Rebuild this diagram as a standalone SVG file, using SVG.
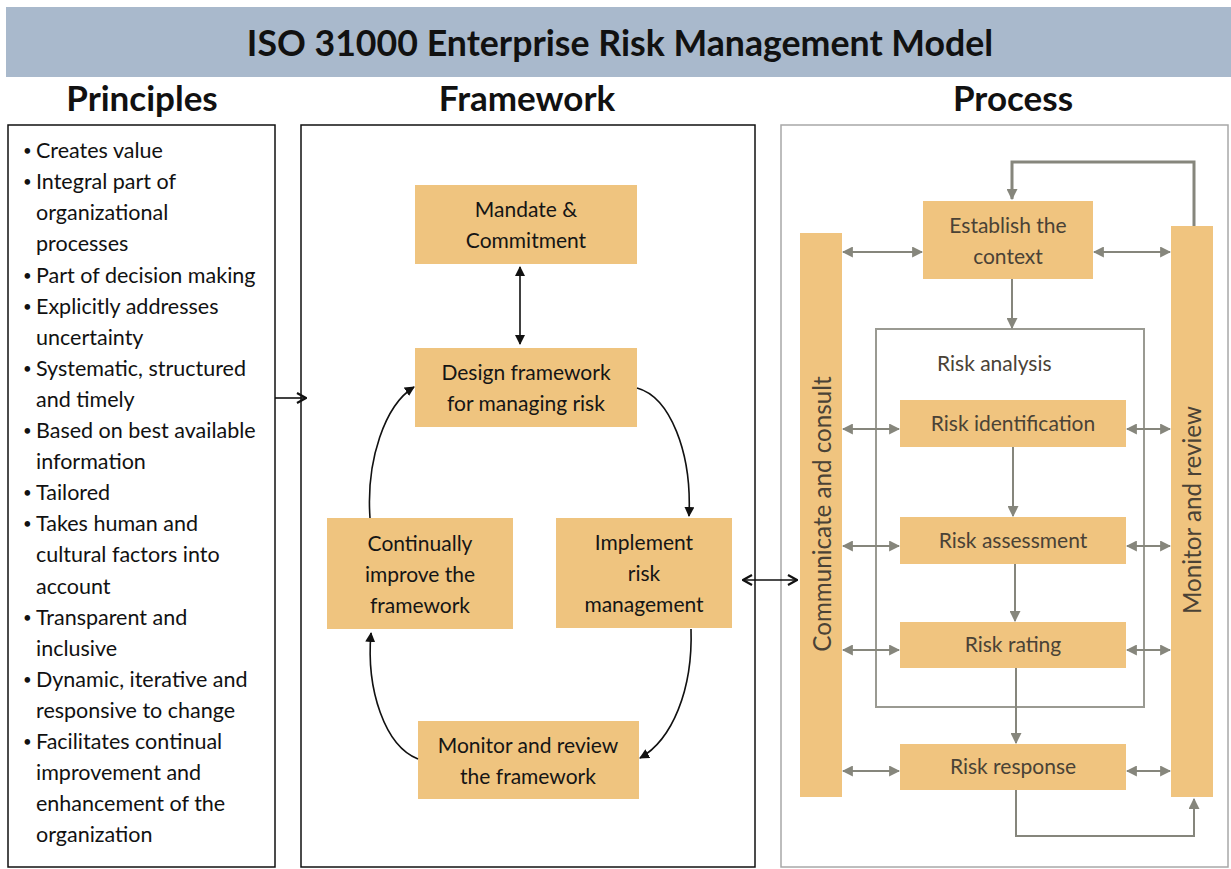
<svg xmlns="http://www.w3.org/2000/svg" width="1231" height="869" viewBox="0 0 1231 869">
<defs>
<style>
.t{font-family:Lato,"Open Sans","Liberation Sans",sans-serif;}
.hdr{font-size:35px;fill:#111;text-anchor:middle;font-weight:bold;}
.pr{font-size:21.5px;fill:#111;}
.bu{font-size:15px;fill:#111;}
.fn{fill:#efc47f;}
.ft{font-size:21px;fill:#151515;text-anchor:middle;}
.pn{fill:#f0c47f;}
.pt{font-size:21px;fill:#4a4236;text-anchor:middle;}
.vt{font-size:24.2px;fill:#4a4236;text-anchor:middle;}
.gl{stroke:#86867c;stroke-width:2;fill:none;}
.bl{stroke:#111;stroke-width:1.6;fill:none;}
</style>
<marker id="ga" viewBox="0 0 10 10" refX="9" refY="5" markerWidth="11" markerHeight="11" markerUnits="userSpaceOnUse" orient="auto-start-reverse"><path d="M0,0 L10,5 L0,10 z" fill="#86867c"/></marker>
<marker id="ba" viewBox="0 0 10 10" refX="9" refY="5" markerWidth="10" markerHeight="10" markerUnits="userSpaceOnUse" orient="auto-start-reverse"><path d="M0,0 L10,5 L0,10 z" fill="#111"/></marker>
<marker id="oa" viewBox="0 0 12 12" refX="11" refY="6" markerWidth="12" markerHeight="12" markerUnits="userSpaceOnUse" orient="auto-start-reverse"><path d="M2,1 L11,6 L2,11" fill="none" stroke="#111" stroke-width="2.2"/></marker>
</defs>
<rect width="1231" height="869" fill="#fff"/>

<g id="title">
<rect x="6" y="7" width="1225" height="70" fill="#a9b9cc"/>
<text class="t" x="620" y="56" font-size="35.7" font-weight="bold" fill="#111" text-anchor="middle">ISO 31000 Enterprise Risk Management Model</text>
</g>

<g id="headers">
<text class="t hdr" x="142" y="111">Principles</text>
<text class="t hdr" x="527" y="111">Framework</text>
<text class="t hdr" x="1013" y="111">Process</text>
</g>

<g id="principles">
<rect x="8" y="125" width="267" height="742" fill="none" stroke="#111" stroke-width="1.5"/>
<g class="t bu">
<text x="23" y="156">•</text>
<text x="23" y="187">•</text>
<text x="23" y="281">•</text>
<text x="23" y="312">•</text>
<text x="23" y="374">•</text>
<text x="23" y="436">•</text>
<text x="23" y="498">•</text>
<text x="23" y="529">•</text>
<text x="23" y="623">•</text>
<text x="23" y="685">•</text>
<text x="23" y="747">•</text>
</g>
<g class="t pr">
<text x="36" y="158">Creates value</text>
<text x="36" y="189">Integral part of</text>
<text x="36" y="220">organizational</text>
<text x="36" y="251">processes</text>
<text x="36" y="283">Part of decision making</text>
<text x="36" y="314">Explicitly addresses</text>
<text x="36" y="345">uncertainty</text>
<text x="36" y="376">Systematic, structured</text>
<text x="36" y="407">and timely</text>
<text x="36" y="438">Based on best available</text>
<text x="36" y="469">information</text>
<text x="36" y="500">Tailored</text>
<text x="36" y="531">Takes human and</text>
<text x="36" y="562">cultural factors into</text>
<text x="36" y="594">account</text>
<text x="36" y="625">Transparent and</text>
<text x="36" y="656">inclusive</text>
<text x="36" y="687">Dynamic, iterative and</text>
<text x="36" y="718">responsive to change</text>
<text x="36" y="749">Facilitates continual</text>
<text x="36" y="780">improvement and</text>
<text x="36" y="811">enhancement of the</text>
<text x="36" y="842">organization</text>
</g>
</g>

<g id="framework">
<rect x="301" y="125" width="454" height="742" fill="none" stroke="#111" stroke-width="1.5"/>
</g>
<g id="fw-mandate">
<rect class="fn" x="415" y="185" width="222" height="79"/>
<text class="t ft" x="526" y="217">Mandate &amp;</text>
<text class="t ft" x="526" y="248">Commitment</text>
</g>
<g id="fw-design">
<rect class="fn" x="415" y="348" width="222" height="79"/>
<text class="t ft" x="526" y="380">Design framework</text>
<text class="t ft" x="526" y="411">for managing risk</text>
</g>
<g id="fw-improve">
<rect class="fn" x="327" y="518" width="186" height="111"/>
<text class="t ft" x="420" y="551">Continually</text>
<text class="t ft" x="420" y="582">improve the</text>
<text class="t ft" x="420" y="613">framework</text>
</g>
<g id="fw-implement">
<rect class="fn" x="556" y="518" width="176" height="110"/>
<text class="t ft" x="644" y="550">Implement</text>
<text class="t ft" x="644" y="581">risk</text>
<text class="t ft" x="644" y="612">management</text>
</g>
<g id="fw-monitor">
<rect class="fn" x="418" y="721" width="221" height="78"/>
<text class="t ft" x="528" y="753">Monitor and review</text>
<text class="t ft" x="528" y="784">the framework</text>
</g>

<g id="process">
<rect x="781" y="125" width="447" height="742" fill="none" stroke="#a8a8a8" stroke-width="1.5"/>
<rect x="876" y="329" width="268" height="378" fill="none" stroke="#9a9a92" stroke-width="2"/>
<text class="t" x="937" y="371" font-size="21" fill="#4a4236">Risk analysis</text>
</g>
<g id="p-communicate">
<rect class="pn" x="800" y="233" width="42" height="564"/>
<text class="t vt" x="831" y="514" transform="rotate(-90 831 514)">Communicate and consult</text>
</g>
<g id="p-monitor">
<rect class="pn" x="1171" y="226" width="42" height="571"/>
<text class="t vt" x="1201" y="510" transform="rotate(-90 1201 510)">Monitor and review</text>
</g>
<g id="p-context">
<rect class="pn" x="923" y="201" width="170" height="78"/>
<text class="t pt" x="1008" y="233">Establish the</text>
<text class="t pt" x="1008" y="264">context</text>
</g>
<g id="p-ident">
<rect class="pn" x="900" y="400" width="226" height="47"/>
<text class="t pt" x="1013" y="431">Risk identification</text>
</g>
<g id="p-assess">
<rect class="pn" x="900" y="517" width="226" height="47"/>
<text class="t pt" x="1013" y="548">Risk assessment</text>
</g>
<g id="p-rating">
<rect class="pn" x="900" y="622" width="226" height="46"/>
<text class="t pt" x="1013" y="652">Risk rating</text>
</g>
<g id="p-response">
<rect class="pn" x="900" y="744" width="226" height="46"/>
<text class="t pt" x="1013" y="774">Risk response</text>
</g>

<g id="connectors">
<line class="bl" x1="275" y1="398" x2="306" y2="398" stroke-width="2" marker-end="url(#oa)"/>
<line class="bl" x1="743" y1="580" x2="797" y2="580" stroke-width="2" marker-start="url(#oa)" marker-end="url(#oa)"/>
<line class="bl" x1="520" y1="267" x2="520" y2="344" marker-start="url(#ba)" marker-end="url(#ba)"/>
<path class="bl" d="M637,388 C670,397 692,452 689,516" marker-end="url(#ba)"/>
<path class="bl" d="M691,629 C693,690 672,740 640,758" marker-end="url(#ba)"/>
<path class="bl" d="M418,759 C385,746 366,690 371,633" marker-end="url(#ba)"/>
<path class="bl" d="M370,518 C366,460 385,405 414,387" marker-end="url(#ba)"/>

<path d="M1194,226 L1194,162 L1012,162 L1012,199" fill="none" stroke="#86867c" stroke-width="3" marker-end="url(#ga)"/>
<line class="gl" x1="1012" y1="279" x2="1012" y2="328" marker-end="url(#ga)"/>
<line class="gl" x1="1013" y1="447" x2="1013" y2="516" marker-end="url(#ga)"/>
<line class="gl" x1="1015" y1="564" x2="1015" y2="621" marker-end="url(#ga)"/>
<line class="gl" x1="1016" y1="668" x2="1016" y2="743" marker-end="url(#ga)"/>
<path class="gl" d="M1016,790 L1016,836 L1194,836 L1194,799" marker-end="url(#ga)"/>

<line class="gl" x1="843" y1="252" x2="922" y2="252" marker-start="url(#ga)" marker-end="url(#ga)"/>
<line class="gl" x1="1094" y1="252" x2="1170" y2="252" marker-start="url(#ga)" marker-end="url(#ga)"/>
<line class="gl" x1="843" y1="429" x2="899" y2="429" marker-start="url(#ga)" marker-end="url(#ga)"/>
<line class="gl" x1="1127" y1="429" x2="1170" y2="429" marker-start="url(#ga)" marker-end="url(#ga)"/>
<line class="gl" x1="843" y1="546" x2="899" y2="546" marker-start="url(#ga)" marker-end="url(#ga)"/>
<line class="gl" x1="1127" y1="546" x2="1170" y2="546" marker-start="url(#ga)" marker-end="url(#ga)"/>
<line class="gl" x1="843" y1="650" x2="899" y2="650" marker-start="url(#ga)" marker-end="url(#ga)"/>
<line class="gl" x1="1127" y1="650" x2="1170" y2="650" marker-start="url(#ga)" marker-end="url(#ga)"/>
<line class="gl" x1="843" y1="771" x2="899" y2="771" marker-start="url(#ga)" marker-end="url(#ga)"/>
<line class="gl" x1="1127" y1="771" x2="1170" y2="771" marker-start="url(#ga)" marker-end="url(#ga)"/>
</g>
</svg>
